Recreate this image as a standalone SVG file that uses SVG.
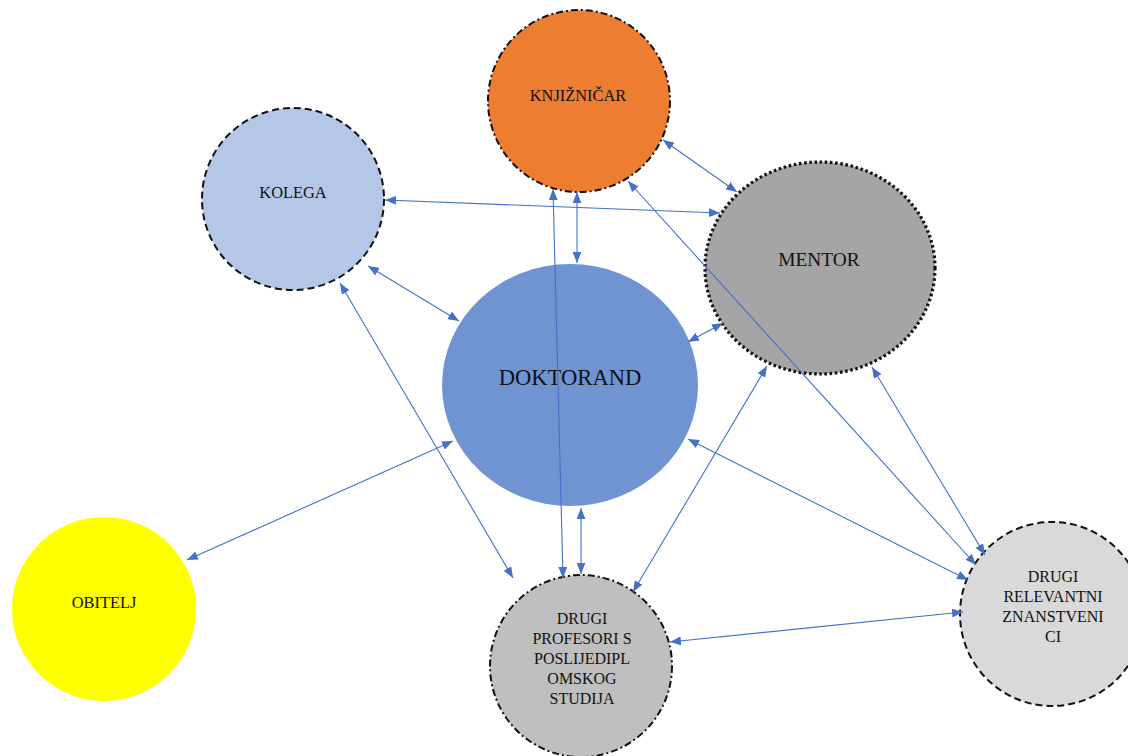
<svg xmlns="http://www.w3.org/2000/svg" width="1128" height="756" viewBox="0 0 1128 756">
<style>
.lbl{fill:#111;text-anchor:middle;dominant-baseline:middle}
.s{font-size:16.4px}
.m{font-size:16px}
.edge{stroke:#4472C4;stroke-width:1.1;fill:none;marker-start:url(#ah);marker-end:url(#ah)}
</style>
<defs>
<marker id="ah" viewBox="0 0 10 8" refX="10" refY="4" markerWidth="11" markerHeight="9" markerUnits="userSpaceOnUse" orient="auto-start-reverse">
<path d="M0,0 L10,4 L0,8 Z" fill="#4472C4"/>
</marker>
</defs>
<rect width="1128" height="756" fill="#fff"/>
<g id="nodes" font-family="Liberation Serif, DejaVu Serif, serif">
<g id="doktorand">
<ellipse cx="570" cy="385" rx="128" ry="121" fill="#6F94D1"/>
<text class="lbl" x="570" y="380" font-size="22.6">DOKTORAND</text>
</g>
<g id="knjiznicar">
<circle cx="579" cy="101" r="91" fill="#ED7D31" stroke="#111" stroke-width="2" stroke-dasharray="7,3,2,3"/>
<text class="lbl s" x="578" y="97">KNJIŽNIČAR</text>
</g>
<g id="kolega">
<circle cx="293" cy="199" r="91" fill="#B4C7E7" stroke="#111" stroke-width="2" stroke-dasharray="7,4"/>
<text class="lbl s" x="293" y="194">KOLEGA</text>
</g>
<g id="mentor">
<ellipse cx="820" cy="268" rx="115" ry="106" fill="#A5A5A5" stroke="#111" stroke-width="3.2" stroke-dasharray="2.6,2.6"/>
<text class="lbl" x="819" y="262" font-size="19.4">MENTOR</text>
</g>
<g id="obitelj">
<circle cx="104" cy="609" r="92" fill="#FFFF00"/>
<text class="lbl s" x="104" y="604">OBITELJ</text>
</g>
<g id="drugi-profesori">
<circle cx="581" cy="666" r="91" fill="#BFBFBF" stroke="#111" stroke-width="2" stroke-dasharray="7,3,2,3"/>
<text class="lbl m" x="582" y="620">DRUGI</text>
<text class="lbl m" x="582" y="640">PROFESORI S</text>
<text class="lbl m" x="582" y="660">POSLIJEDIPL</text>
<text class="lbl m" x="582" y="680">OMSKOG</text>
<text class="lbl m" x="582" y="700">STUDIJA</text>
</g>
<g id="drugi-relevantni">
<circle cx="1052" cy="614" r="92" fill="#D9D9D9" stroke="#111" stroke-width="2" stroke-dasharray="7,4"/>
<text class="lbl m" x="1053" y="578">DRUGI</text>
<text class="lbl m" x="1053" y="598">RELEVANTNI</text>
<text class="lbl m" x="1053" y="618">ZNANSTVENI</text>
<text class="lbl m" x="1053" y="638">CI</text>
</g>
</g>
<g id="connectors">
<line class="edge" x1="385" y1="200" x2="720" y2="213"/>
<line class="edge" x1="368" y1="266" x2="459" y2="321"/>
<line class="edge" x1="340" y1="283" x2="513" y2="578"/>
<line class="edge" x1="577" y1="192" x2="577" y2="263"/>
<line class="edge" x1="663" y1="140" x2="737" y2="192"/>
<line class="edge" x1="628" y1="181" x2="976" y2="565"/>
<line class="edge" x1="688" y1="342" x2="723" y2="323"/>
<line class="edge" x1="453" y1="441" x2="187" y2="560"/>
<line class="edge" x1="581" y1="508" x2="581" y2="574"/>
<line class="edge" x1="553" y1="189" x2="563" y2="578"/>
<line class="edge" x1="767" y1="366" x2="633" y2="592"/>
<line class="edge" x1="688" y1="439" x2="968" y2="580"/>
<line class="edge" x1="670" y1="642" x2="963" y2="612"/>
<line class="edge" x1="872" y1="367" x2="985" y2="555"/>
</g>
</svg>
